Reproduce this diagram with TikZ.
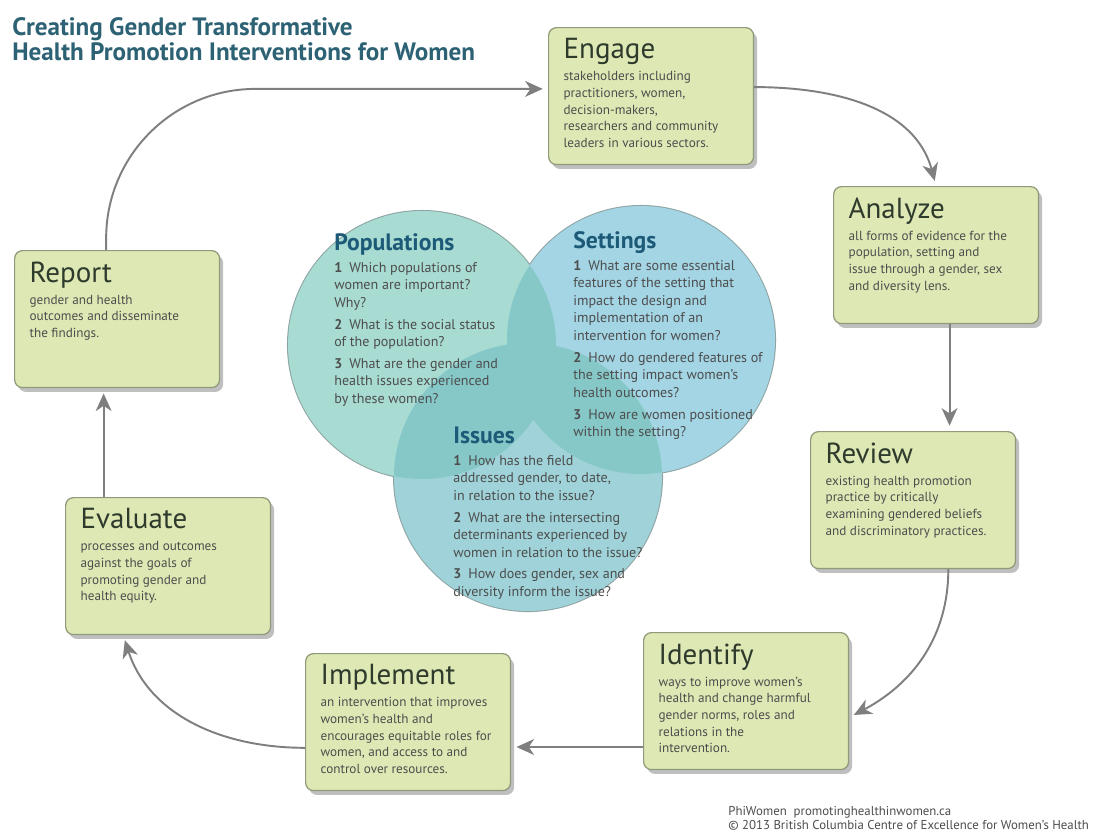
\documentclass[tikz,border=0pt]{standalone}
\usepackage{fontspec}
\setmainfont{PT Sans}
\usetikzlibrary{arrows.meta}
\usetikzlibrary{shadows}
\usetikzlibrary{positioning}

\definecolor{stagefill}{HTML}{DEE8B4}
\definecolor{stageline}{HTML}{8E9A7A}
\definecolor{stagehead}{HTML}{2E3A2C}
\definecolor{bodygray}{HTML}{4D4D4D}
\definecolor{titleteal}{HTML}{2D6275}
\definecolor{headblue}{HTML}{1D5A78}
\definecolor{popfill}{HTML}{A8DBD2}
\definecolor{setfill}{HTML}{A3D5E5}
\definecolor{issfill}{HTML}{9FD3D9}
\definecolor{overlapfill}{HTML}{86C8C8}
\definecolor{ringgray}{HTML}{8FA5A5}
\definecolor{flowgray}{HTML}{7F7F7F}

\newcommand{\stage}[2]{\parbox[t][2.3cm][t]{3.5cm}{\raggedright
  \leavevmode{\fontsize{16.5}{16.5}\selectfont #1\par}\vspace{3pt}
  \leavevmode{\fontsize{7.5}{9.5}\selectfont\color{bodygray}#2\par}}}

\begin{document}
\begin{tikzpicture}[x=0.02cm, y=-0.02cm]
 \tikzstyle{stagebox} = [draw=stageline, fill=stagefill, line width=0.7pt, rounded corners=4.5pt, inner xsep=0.3cm, inner ysep=0.22cm, anchor=north west, text=stagehead, drop shadow={shadow xshift=2pt, shadow yshift=-2.5pt, fill=black, opacity=0.25}];
 \tikzstyle{qhead} = [anchor=base west, inner sep=0pt, text=headblue, font=\fontsize{13.5}{15}\selectfont\bfseries];
 \tikzstyle{qbody} = [inner sep=0pt, align=left, text=bodygray, font=\fontsize{8}{10}\selectfont];
 \tikzstyle{flow} = [draw=flowgray, line width=1.1pt, shorten >=3pt, -{Stealth[length=10pt, width=9pt, inset=3pt, fill=flowgray]}];
 \tikzstyle{ringline} = [draw=ringgray, line width=1.2pt];

 \fill[white] (0,0) rectangle (1095,833);
 \useasboundingbox (0,0) rectangle (1095,833);

 \node[anchor=north west, inner sep=0pt, align=left, text=titleteal, font=\fontsize{14.3}{14.4}\selectfont\bfseries] (title) at (12,17) {Creating Gender Transformative\\Health Promotion Interventions for Women};

 \coordinate (popc) at (422,345);
 \coordinate (setc) at (641,340);
 \coordinate (issc) at (528,477);
 \def\rad{2.68cm}
 \draw[ringline] (popc) circle[radius=\rad] (setc) circle[radius=\rad] (issc) circle[radius=\rad];
 \fill[popfill] (popc) circle[radius=\rad];
 \fill[setfill] (setc) circle[radius=\rad];
 \fill[issfill] (issc) circle[radius=\rad];
 \begin{scope}
  \clip (popc) circle[radius=\rad];
  \fill[overlapfill] (setc) circle[radius=\rad];
  \fill[overlapfill] (issc) circle[radius=\rad];
 \end{scope}
 \begin{scope}
  \clip (setc) circle[radius=\rad];
  \fill[overlapfill] (issc) circle[radius=\rad];
 \end{scope}

 \node[qhead] (pophead) at (334,250) {Populations};
 \node[qbody, below right=6.7pt and 0pt of pophead.base west] (popbody) {\textbf{1}\enspace Which populations of\\women are important?\\Why?\\[2.4pt]\textbf{2}\enspace What is the social status\\of the population?\\[2.4pt]\textbf{3}\enspace What are the gender and\\health issues experienced\\by these women?};

 \node[qhead] (sethead) at (573,248) {Settings};
 \node[qbody, below right=6.7pt and 0pt of sethead.base west] (setbody) {\textbf{1}\enspace What are some essential\\features of the setting that\\impact the design and\\implementation of an\\intervention for women?\\[2.4pt]\textbf{2}\enspace How do gendered features of\\the setting impact women's\\health outcomes?\\[2.4pt]\textbf{3}\enspace How are women positioned\\within the setting?};

 \node[qhead] (isshead) at (453,443) {Issues};
 \node[qbody, below right=6.7pt and 0pt of isshead.base west] (issbody) {\textbf{1}\enspace How has the field\\addressed gender, to date,\\in relation to the issue?\\[2.4pt]\textbf{2}\enspace What are the intersecting\\determinants experienced by\\women in relation to the issue?\\[2.4pt]\textbf{3}\enspace How does gender, sex and\\diversity inform the issue?};

 \node[stagebox] (engage) at (548,27) {\stage{Engage}{stakeholders including\\practitioners, women,\\decision-makers,\\researchers and community\\leaders in various sectors.}};
 \node[stagebox] (analyze) at (833,186) {\stage{Analyze}{all forms of evidence for the\\population, setting and\\issue through a gender, sex\\and diversity lens.}};
 \node[stagebox] (review) at (810,431) {\stage{Review}{existing health promotion\\practice by critically\\examining gendered beliefs\\and discriminatory practices.}};
 \node[stagebox] (identify) at (643,632) {\stage{Identify}{ways to improve women's\\health and change harmful\\gender norms, roles and\\relations in the\\intervention.}};
 \node[stagebox] (implement) at (305,653) {\stage{Implement}{an intervention that improves\\women's health and\\encourages equitable roles for\\women, and access to and\\control over resources.}};
 \node[stagebox] (evaluate) at (65,497) {\stage{Evaluate}{processes and outcomes\\against the goals of\\promoting gender and\\health equity.}};
 \node[stagebox] (report) at (14,250) {\stage{Report}{gender and health\\outcomes and disseminate\\the findings.}};

 \draw[flow, rounded corners=85pt] (report.99) |- (engage.176);
 \draw[flow] (engage.5) to[out=0, in=105] (analyze.north);
 \draw[flow] (analyze.-79) -- (analyze.-79 |- review.north);
 \draw[flow] (review.-63) to[out=-90, in=28] (identify.-9);
 \draw[flow] (identify.204) -- (identify.204 -| implement.east);
 \draw[flow] (implement.194) to[out=180, in=-72] (evaluate.-123);
 \draw[flow] (evaluate.133) -- (evaluate.133 |- report.south);

 \node[anchor=north west, inner sep=0pt, align=left, text=bodygray, font=\fontsize{7.3}{8}\selectfont] (credit) at (728,806) {PhiWomen\ \ promotinghealthinwomen.ca\\\textcopyright{} 2013 British Columbia Centre of Excellence for Women's Health};
\end{tikzpicture}
\end{document}
